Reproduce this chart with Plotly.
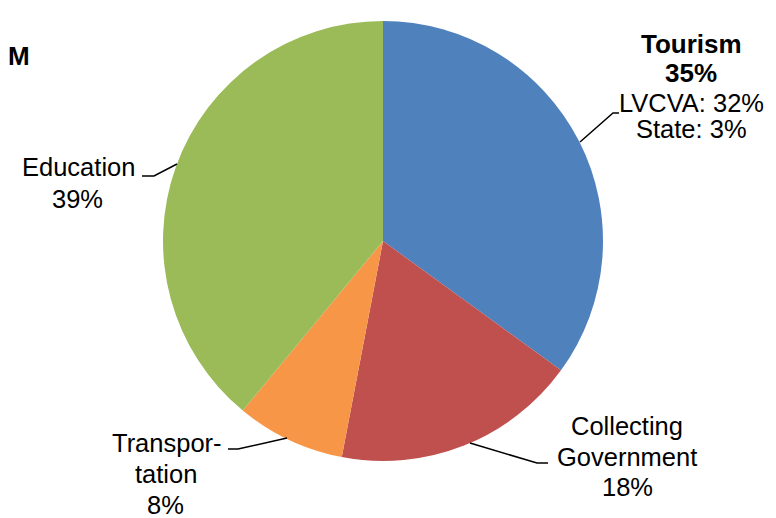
import plotly.graph_objects as go

labels = ["Tourism", "Collecting Government", "Transportation", "Education"]
values = [35, 18, 8, 39]
colors = ["#4F81BD", "#C0504D", "#F79646", "#9BBB59"]

# page body has an 8px margin; figure is sized to fill the rest of the window
OFF = 8
W, H = 776 - OFF, 518 - OFF
FONT = "Liberation Sans, Arial, sans-serif"

def px(x):
    return (x - OFF) / W

def py(y):
    return 1 - (y - OFF) / H

fig = go.Figure(go.Pie(
    labels=labels, values=values, sort=False, direction="clockwise", rotation=0,
    marker=dict(colors=colors, line=dict(width=0)),
    textinfo="none", hoverinfo="label+percent", showlegend=False,
    domain=dict(x=[px(383 - 220), px(383 + 220)], y=[py(241 + 220), py(241 - 220)]),
))

# label texts: (text, x-center px, y-center px, bold)
label_lines = [
    ("Tourism", 691, 44, True),
    ("35%", 691, 73, True),
    ("LVCVA: 32%", 691, 103, False),
    ("State: 3%", 691, 129, False),
    ("Education", 78, 167, False),
    ("39%", 77, 199, False),
    ("Transpor-", 167, 443, False),
    ("tation", 166, 474, False),
    ("8%", 165, 505, False),
    ("Collecting", 627, 426, False),
    ("Government", 627, 457, False),
    ("18%", 627, 487, False),
    ("M", 19, 56, True),
]
annotations = []
for t, x, y, b in label_lines:
    annotations.append(dict(
        text=f"<b>{t}</b>" if b else t, x=px(x), y=py(y), xref="paper", yref="paper",
        xanchor="center", yanchor="middle", showarrow=False,
        font=dict(family=FONT, size=26 if b else 25.5, color="#000000"),
    ))

leaders = [
    [(580, 142), (613, 113), (619, 113)],
    [(177, 164), (154, 176), (142, 176)],
    [(287, 438), (238, 449), (228, 449)],
    [(470, 443), (537, 463), (548, 463)],
]
shapes = []
for pts in leaders:
    path = "M " + " L ".join(f"{px(x)},{py(y)}" for x, y in pts)
    shapes.append(dict(type="path", path=path, xref="paper", yref="paper",
                       line=dict(color="#000000", width=1.5)))

fig.update_layout(
    width=W, height=H, margin=dict(l=0, r=0, t=0, b=0),
    paper_bgcolor="#FFFFFF", plot_bgcolor="#FFFFFF",
    annotations=annotations, shapes=shapes,
)
fig.write_html("out.html")
